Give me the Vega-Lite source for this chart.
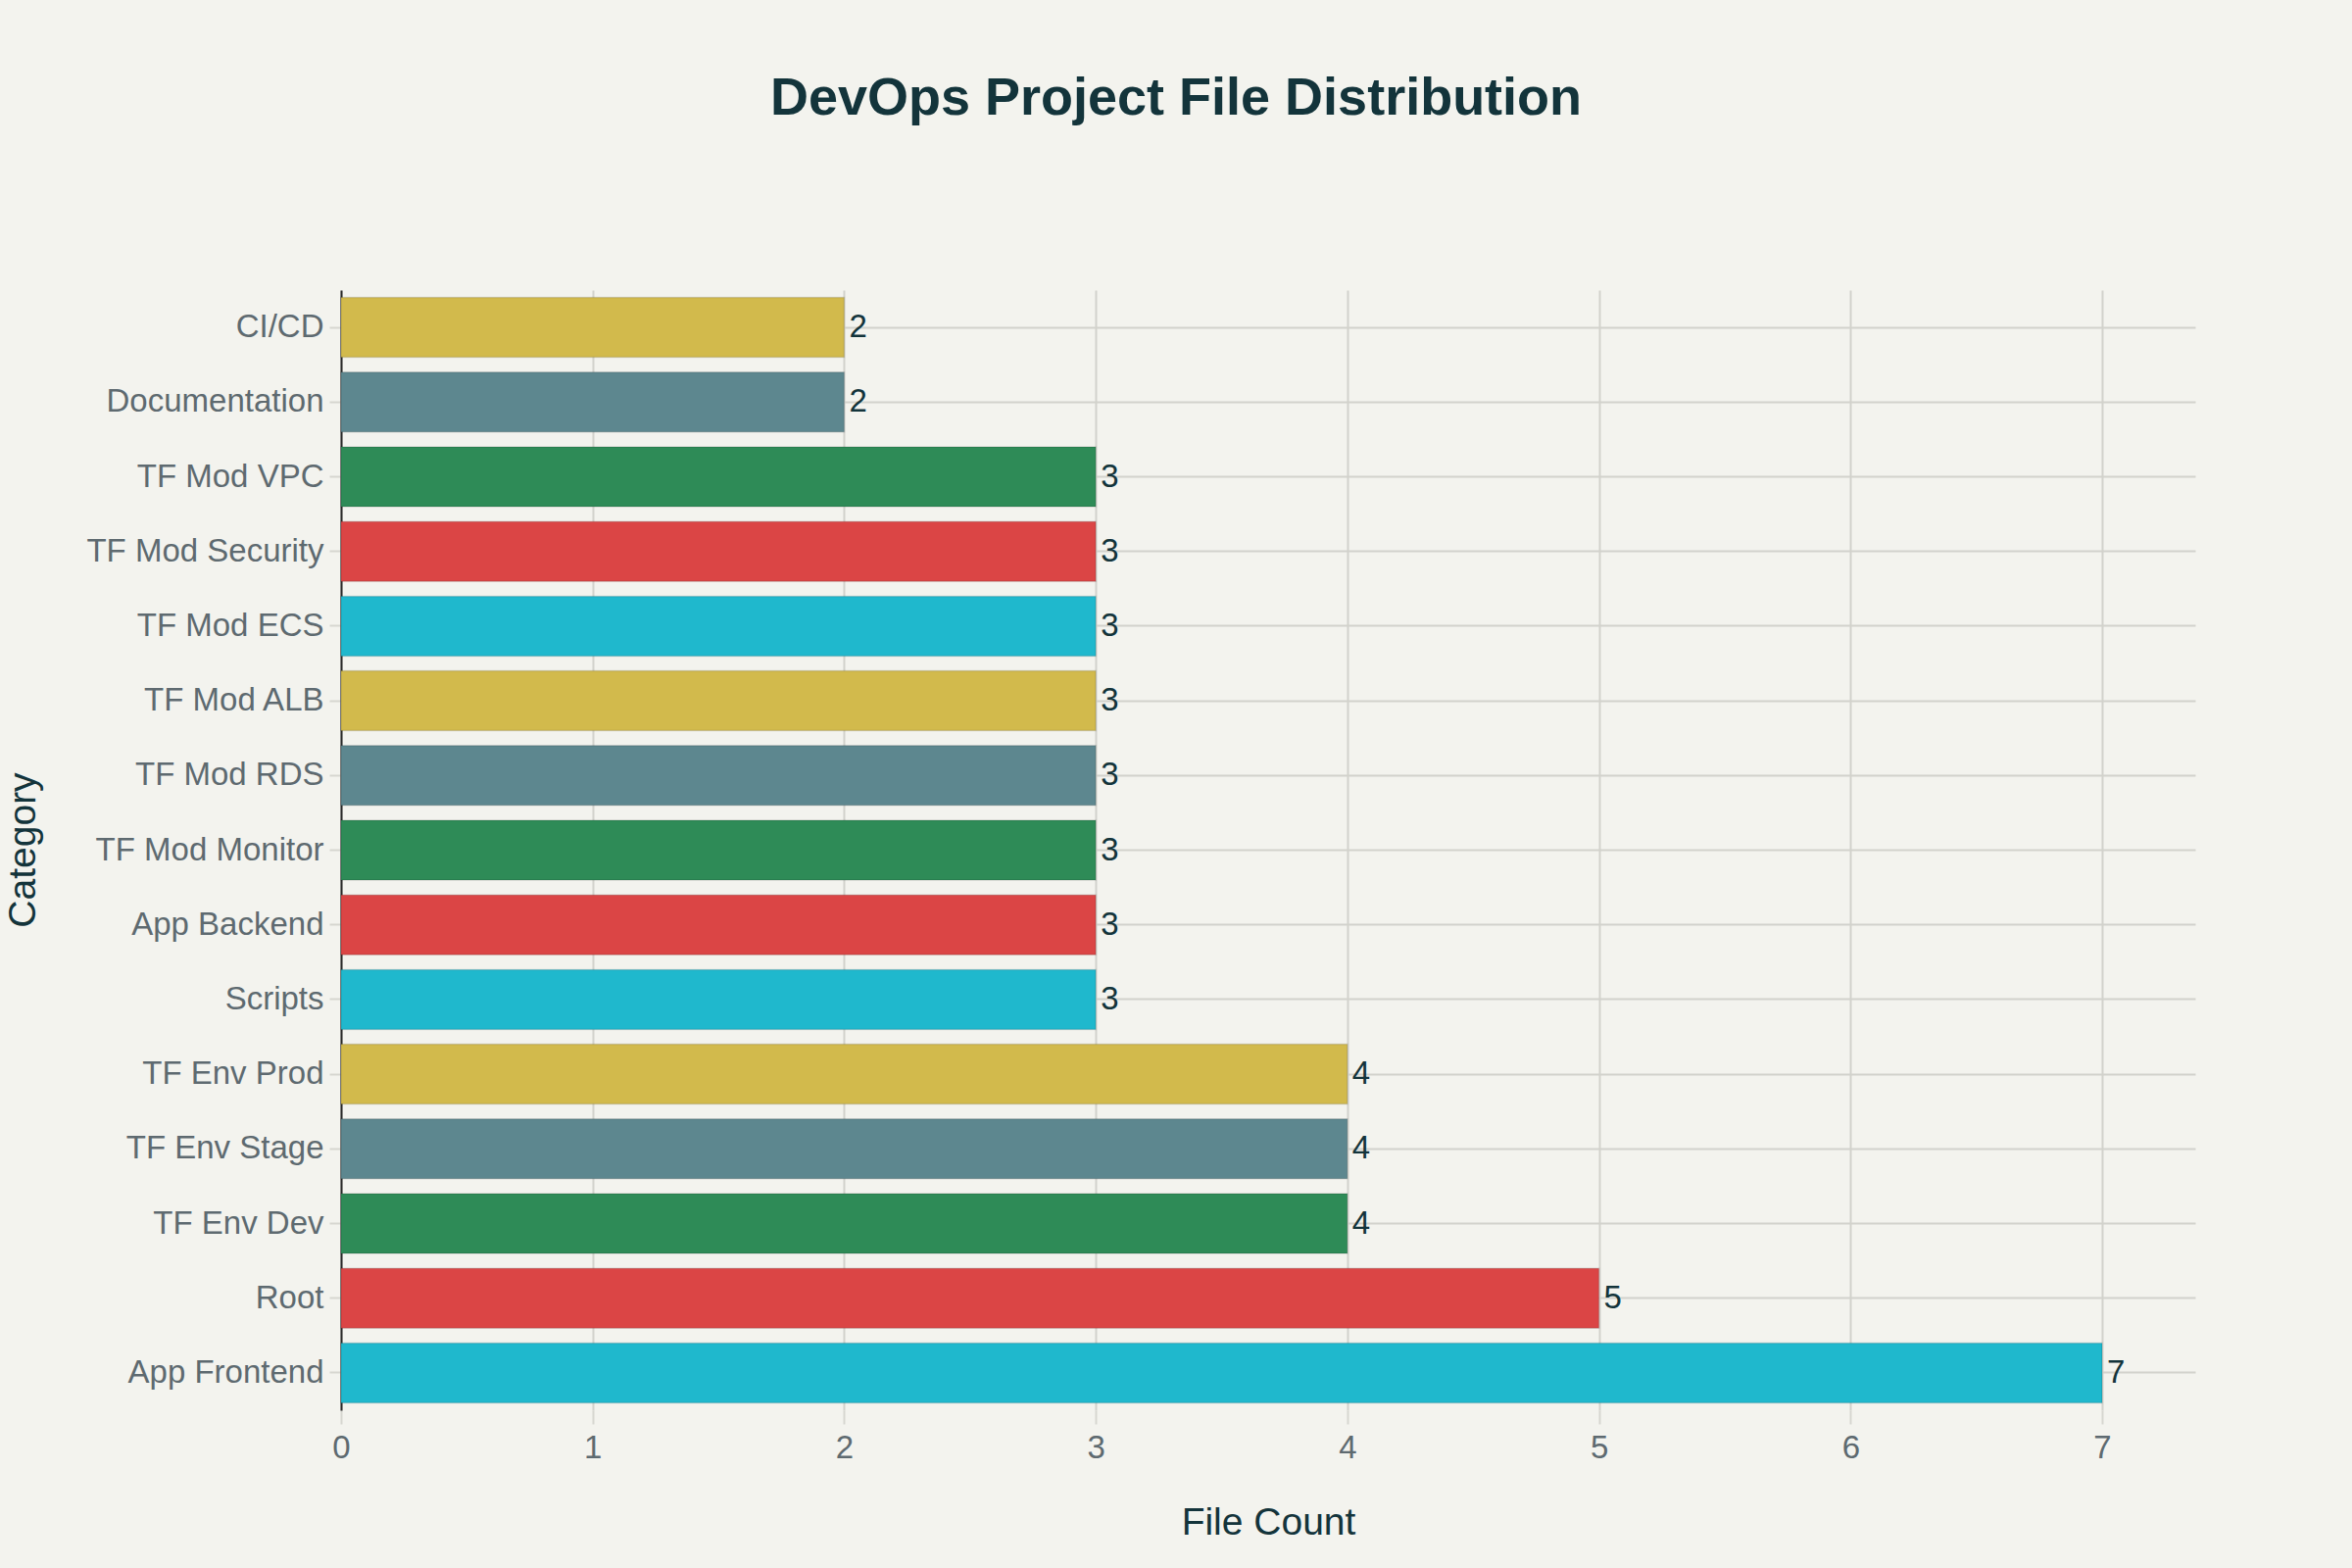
{
  "$schema": "https://vega.github.io/schema/vega-lite/v6.json",
  "width": 1892,
  "height": 1143,
  "autosize": {"type": "none"},
  "padding": {"left": 348, "top": 296, "right": 160, "bottom": 161},
  "background": "#F3F3EE",
  "title": {
    "text": "DevOps Project File Distribution",
    "font": "Liberation Sans",
    "fontSize": 54,
    "fontWeight": "bold",
    "color": "#13343B",
    "anchor": "middle",
    "dx": -94,
    "offset": 168
  },
  "config": {
    "view": {"stroke": null},
    "font": "Liberation Sans"
  },
  "data": {
    "values": [
      {"category": "CI/CD", "count": 2},
      {"category": "Documentation", "count": 2},
      {"category": "TF Mod VPC", "count": 3},
      {"category": "TF Mod Security", "count": 3},
      {"category": "TF Mod ECS", "count": 3},
      {"category": "TF Mod ALB", "count": 3},
      {"category": "TF Mod RDS", "count": 3},
      {"category": "TF Mod Monitor", "count": 3},
      {"category": "App Backend", "count": 3},
      {"category": "Scripts", "count": 3},
      {"category": "TF Env Prod", "count": 4},
      {"category": "TF Env Stage", "count": 4},
      {"category": "TF Env Dev", "count": 4},
      {"category": "Root", "count": 5},
      {"category": "App Frontend", "count": 7}
    ]
  },
  "encoding": {
    "y": {
      "field": "category",
      "type": "nominal",
      "sort": null,
      "scale": {"paddingInner": 0.2, "paddingOuter": 0.1},
      "axis": {
        "title": "Category",
        "titleFont": "Liberation Sans",
        "titleFontSize": 39,
        "titleFontWeight": "normal",
        "titleColor": "#13343B",
        "titleX": -325,
        "titleY": 571,
        "titleAngle": -90,
        "titleAlign": "center",
        "titleBaseline": "middle",
        "labelFont": "Liberation Sans",
        "labelFontSize": 33,
        "labelColor": "#5E6A70",
        "labelPadding": 6,
        "labelLimit": 400,
        "tickSize": 12,
        "tickColor": "#D6D6D0",
        "tickWidth": 2,
        "domainColor": "#2A2A2A",
        "domainWidth": 2,
        "grid": true,
        "gridColor": "#D2D2CC",
        "gridWidth": 2,
        "bandPosition": 0.5
      }
    },
    "x": {
      "field": "count",
      "type": "quantitative",
      "scale": {"domain": [0, 7.37], "nice": false, "zero": true},
      "axis": {
        "title": "File Count",
        "titleFont": "Liberation Sans",
        "titleFontSize": 39,
        "titleFontWeight": "normal",
        "titleColor": "#13343B",
        "titlePadding": 40,
        "labelFont": "Liberation Sans",
        "labelFontSize": 33,
        "labelColor": "#5E6A70",
        "labelPadding": 8,
        "labelFlush": false,
        "values": [0, 1, 2, 3, 4, 5, 6, 7],
        "format": "d",
        "tickSize": 14,
        "tickColor": "#D6D6D0",
        "tickWidth": 2,
        "domain": false,
        "grid": true,
        "gridColor": "#D2D2CC",
        "gridWidth": 2
      }
    }
  },
  "layer": [
    {
      "mark": {"type": "bar", "stroke": "#000000", "strokeOpacity": 0.12, "strokeWidth": 1.5},
      "encoding": {
        "color": {
          "field": "category",
          "type": "nominal",
          "legend": null,
          "scale": {
            "domain": ["CI/CD", "Documentation", "TF Mod VPC", "TF Mod Security", "TF Mod ECS", "TF Mod ALB", "TF Mod RDS", "TF Mod Monitor", "App Backend", "Scripts", "TF Env Prod", "TF Env Stage", "TF Env Dev", "Root", "App Frontend"],
            "range": ["#D2BA4C", "#5D878F", "#2E8B57", "#DB4545", "#1FB8CD", "#D2BA4C", "#5D878F", "#2E8B57", "#DB4545", "#1FB8CD", "#D2BA4C", "#5D878F", "#2E8B57", "#DB4545", "#1FB8CD"]
          }
        }
      }
    },
    {
      "mark": {"type": "text", "align": "left", "baseline": "middle", "dx": 5, "fontSize": 33, "color": "#13343B", "font": "Liberation Sans"},
      "encoding": {
        "text": {"field": "count", "type": "quantitative"}
      }
    }
  ]
}
